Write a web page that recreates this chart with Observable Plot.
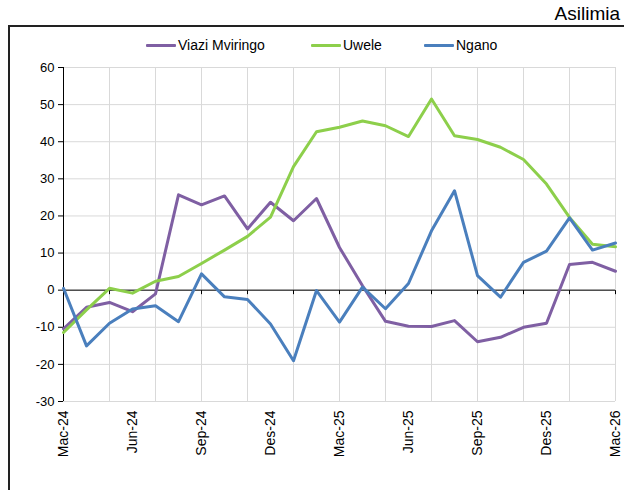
<!DOCTYPE html>
<html>
<head>
<meta charset="utf-8">
<script src="https://cdn.jsdelivr.net/npm/d3@7"></script>
<script src="https://cdn.jsdelivr.net/npm/@observablehq/plot@0.6"></script>
<style>
  body { margin: 0; background: #fff; }
  #wrap { position: relative; width: 624px; height: 490px; overflow: hidden; font-family: "Liberation Sans", Arial, sans-serif; color: #000; }
  #unit { position: absolute; right: 4px; top: 3px; font-size: 19px; }
  #frame { position: absolute; left: 8px; top: 25px; width: 800px; height: 600px; border-left: 2px solid #222; border-top: 2px solid #222; }
  .lg { position: absolute; top: 37px; font-size: 14px; display: flex; align-items: center; height: 16px; }
  .lg span.sw { display: inline-block; width: 30px; height: 3px; border-radius: 1px; margin-right: 2px; }
  #chart { position: absolute; left: 0; top: 0; }
</style>
</head>
<body>
<div id="wrap">
  <div id="frame"></div>
  <div id="unit">Asilimia</div>
  <div id="legend"></div>
  <div id="chart"></div>
</div>
<script>
const months = ["Mac-24","Apr-24","Mei-24","Jun-24","Jul-24","Ago-24","Sep-24","Okt-24","Nov-24","Des-24","Jan-25","Feb-25","Mac-25","Apr-25","Mei-25","Jun-25","Jul-25","Ago-25","Sep-25","Okt-25","Nov-25","Des-25","Jan-26","Feb-26","Mac-26"];
const tickLabels = ["Mac-24","Jun-24","Sep-24","Des-24","Mac-25","Jun-25","Sep-25","Des-25","Mac-26"];
const gridMonths = ["Mac-24","Mei-24","Jul-24","Sep-24","Nov-24","Jan-25","Mac-25","Mei-25","Jul-25","Sep-25","Nov-25","Jan-26","Mac-26"];
const yTicks = [-30,-20,-10,0,10,20,30,40,50,60];
const seriesNames = ["Viazi Mviringo","Uwele","Ngano"];
const seriesColors = ["#7f5fa3","#8dcf4b","#4a7fbd"];
const viazi = [-10.4,-4.6,-3.3,-5.8,-1.0,25.7,23.0,25.4,16.5,23.7,18.7,24.7,11.5,1.2,-8.4,-9.7,-9.8,-8.2,-13.9,-12.7,-10.0,-8.9,6.9,7.5,5.1];
const uwele = [-11.4,-5.3,0.5,-0.8,2.4,3.7,7.2,10.8,14.5,19.7,33.3,42.7,43.9,45.6,44.3,41.4,51.5,41.6,40.6,38.5,35.2,28.6,19.6,12.4,11.7];
const ngano = [0.5,-15.0,-8.9,-5.1,-4.2,-8.5,4.4,-1.8,-2.5,-9.1,-19.0,-0.1,-8.6,0.8,-5.0,1.8,16.0,26.8,3.9,-1.9,7.5,10.5,19.5,10.8,12.7];

// legend
const legendPos = [146, 311, 424];
const legend = document.getElementById("legend");
seriesNames.forEach((n, i) => {
  const d = document.createElement("div");
  d.className = "lg";
  d.style.left = legendPos[i] + "px";
  d.innerHTML = `<span class="sw" style="background:${seriesColors[i]}"></span>${n}`;
  legend.appendChild(d);
});

const tickSymbol = { draw(ctx) { ctx.moveTo(0, 0); ctx.lineTo(0, 4); } };

const data = [viazi, uwele, ngano];
const chart = Plot.plot({
  width: 624,
  height: 490,
  marginTop: 67,
  marginBottom: 89,
  marginLeft: 63,
  marginRight: 9,
  style: { fontFamily: "'Liberation Sans', Arial, sans-serif", background: "transparent", color: "#000" },
  x: { type: "point", domain: months, padding: 0 },
  y: { domain: [-30, 60] },
  marks: [
    Plot.ruleY(yTicks, { stroke: "#d9d9d9", strokeWidth: 1 }),
    Plot.ruleX(gridMonths, { x: d => d, stroke: "#d9d9d9", strokeWidth: 1 }),
    Plot.ruleY([0], { stroke: "#000", strokeWidth: 1 }),
    Plot.dot(gridMonths, { x: d => d, y: () => 0, symbol: tickSymbol, stroke: "#000", fill: "none", strokeWidth: 1 }),
    Plot.ruleX([months[0]], { stroke: "#000", strokeWidth: 1 }),
    Plot.axisY(yTicks, { tickSize: 5, tickPadding: 4, fontSize: 13, stroke: "#000", color: "#000", label: null, tickFormat: d => String(d) }),
    Plot.axisX(tickLabels, { tickSize: 0, tickPadding: 9, tickRotate: -90, fontSize: 14, color: "#000", label: null }),
    ...data.map((s, k) => Plot.lineY(s, { x: months, y: d => d, stroke: seriesColors[k], strokeWidth: 3, strokeLinejoin: "round" }))
  ]
});
document.getElementById("chart").appendChild(chart);
</script>
</body>
</html>
